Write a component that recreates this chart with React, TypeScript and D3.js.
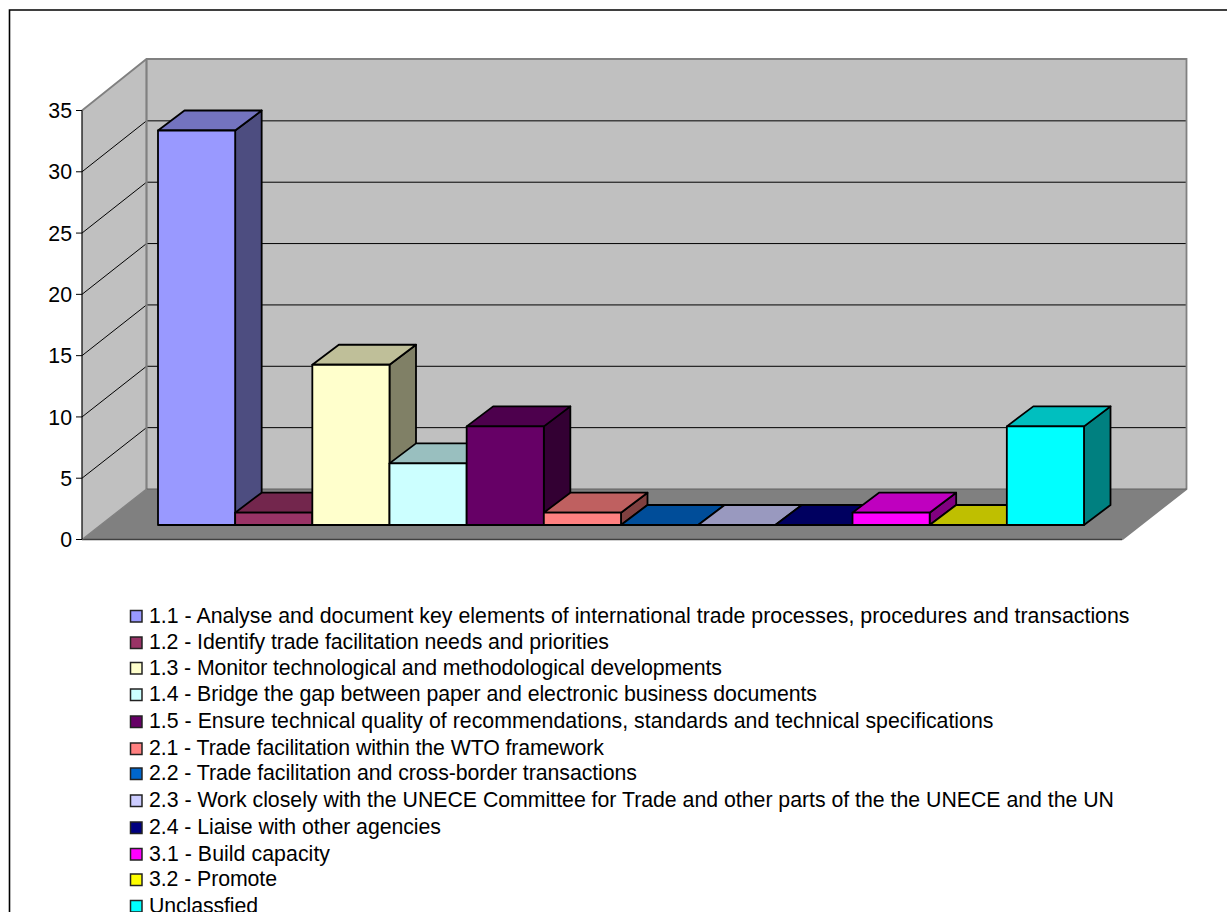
import React from "react";
import * as d3 from "d3";

const labels = [
  "1.1 - Analyse and document key elements of international trade processes, procedures and transactions",
  "1.2 - Identify trade facilitation needs and priorities",
  "1.3 - Monitor technological and methodological developments",
  "1.4 - Bridge the gap between paper and electronic business documents",
  "1.5 - Ensure technical quality of recommendations, standards and technical specifications",
  "2.1 - Trade facilitation within the WTO framework",
  "2.2 - Trade facilitation and cross-border transactions",
  "2.3 - Work closely with the UNECE Committee for Trade and other parts of the the UNECE and the UN",
  "2.4 - Liaise with other agencies",
  "3.1 - Build capacity",
  "3.2 - Promote",
  "Unclassfied",
];
const values = [32, 1, 13, 5, 8, 1, 0, 0, 0, 1, 0, 8];
const colors = ["#9999FF", "#993366", "#FFFFCC", "#CCFFFF", "#660066", "#FF8080", "#0066CC", "#CCCCFF", "#000080", "#FF00FF", "#FFFF00", "#00FFFF"];
const yTicks = [0, 5, 10, 15, 20, 25, 30, 35];
const legendBaselines = [622.5, 649, 674.5, 701, 728, 755, 780, 807, 834, 860.5, 886, 912.5];
const legendWidths = [980.5, 460, 573, 668, 844.5, 455, 488, 965, 292, 181, 128, 109];

const FONT = "'Liberation Sans', Arial, sans-serif";

// Frame of the 3D box
const frontLeft = 82, frontBottom = 539.5, frontRight = 1122;
const depthX = 64.5, depthY = 50.5;
const yFront = d3.scaleLinear().domain([0, 35]).range([frontBottom, 110.5]);
const yBack = d3.scaleLinear().domain([0, 35]).range([frontBottom - depthY, 59.5]);
// Bars
const barX = d3.scaleBand<number>().domain(d3.range(values.length)).range([158, 1084]).padding(0);
const barBase = 525;
const barH = d3.scaleLinear().domain([0, 35]).range([0, 431.5]);
const barDX = 26.5, barDY = 20;

const pts = (p: number[][]) => p.map((q) => q.join(",")).join(" ");
const shade = (c: string, k: number) => {
  const r = d3.rgb(c);
  return d3.rgb(r.r * k, r.g * k, r.b * k).formatHex();
};

export default function App() {
  const backL = frontLeft + depthX;
  const backR = frontRight + depthX;
  const backB = frontBottom - depthY;
  return (
    <svg width={1227} height={912} style={{ position: "absolute", left: 0, top: 0, background: "#fff" }} fontFamily={FONT}>
      <path d="M9.5,912 V10 H1227" fill="none" stroke="#000" strokeWidth={1.6} />

      {/* walls */}
      <polygon points={pts([[frontLeft, frontBottom], [backL, backB], [backL, 59], [frontLeft, 110.5]])} fill="#C0C0C0" />
      <rect x={backL} y={59} width={backR - backL} height={backB - 59} fill="#C0C0C0" />
      <polygon points={pts([[frontLeft, frontBottom], [backL, backB], [backR, backB], [frontRight, frontBottom]])} fill="#808080" />

      {/* gridlines */}
      {yTicks.slice(1, -1).map((t) => (
        <polyline key={t} points={pts([[frontLeft, yFront(t)], [backL, yBack(t)], [backR, yBack(t)]])} fill="none" stroke="#000" strokeWidth={1} />
      ))}

      {/* wall edges */}
      <polyline points={pts([[frontLeft, 110.5], [backL, 59], [backR, 59], [backR, backB], [frontRight, frontBottom]])} fill="none" stroke="#808080" strokeWidth={1.8} />
      <line x1={backL} x2={backL} y1={59} y2={backB} stroke="#808080" strokeWidth={2.2} />
      <line x1={backL} x2={backR} y1={backB} y2={backB} stroke="#606060" strokeWidth={1.2} />
      <line x1={frontLeft} x2={frontRight} y1={frontBottom} y2={frontBottom} stroke="#404040" strokeWidth={1.6} />
      <line x1={frontLeft} x2={backL} y1={frontBottom} y2={backB} stroke="#808080" strokeWidth={1.2} />

      {/* y axis */}
      <line x1={frontLeft} x2={frontLeft} y1={yFront(35)} y2={yFront(0)} stroke="#000" strokeWidth={1.2} />
      {yTicks.map((t) => (
        <g key={t}>
          <line x1={frontLeft - 6} x2={frontLeft} y1={yFront(t)} y2={yFront(t)} stroke="#000" strokeWidth={1} />
          <text x={72} y={yFront(t)} dy="0.36em" textAnchor="end" fontSize={21.3} fill="#000">{t}</text>
        </g>
      ))}

      {/* bars */}
      {values.map((v, i) => {
        const x0 = barX(i)!;
        const x1 = x0 + barX.bandwidth();
        const top = barBase - barH(v);
        return (
          <g key={i} stroke="#000" strokeWidth={1.8} strokeLinejoin="round">
            {v > 0 && <polygon points={pts([[x1, top], [x1 + barDX, top - barDY], [x1 + barDX, barBase - barDY], [x1, barBase]])} fill={shade(colors[i], 0.5)} />}
            <polygon points={pts([[x0, top], [x0 + barDX, top - barDY], [x1 + barDX, top - barDY], [x1, top]])} fill={shade(colors[i], 0.75)} />
            {v > 0 && <rect x={x0} y={top} width={x1 - x0} height={barBase - top} fill={colors[i]} />}
          </g>
        );
      })}

      {/* legend */}
      {labels.map((l, i) => (
        <g key={i}>
          <rect x={130.5} y={legendBaselines[i] - 12} width={11.5} height={11.5} fill={colors[i]} stroke="#222" strokeWidth={1.5} />
          <text x={149} y={legendBaselines[i]} fontSize={21.3} fill="#000" textLength={legendWidths[i]} lengthAdjust="spacing">{l}</text>
        </g>
      ))}
    </svg>
  );
}
